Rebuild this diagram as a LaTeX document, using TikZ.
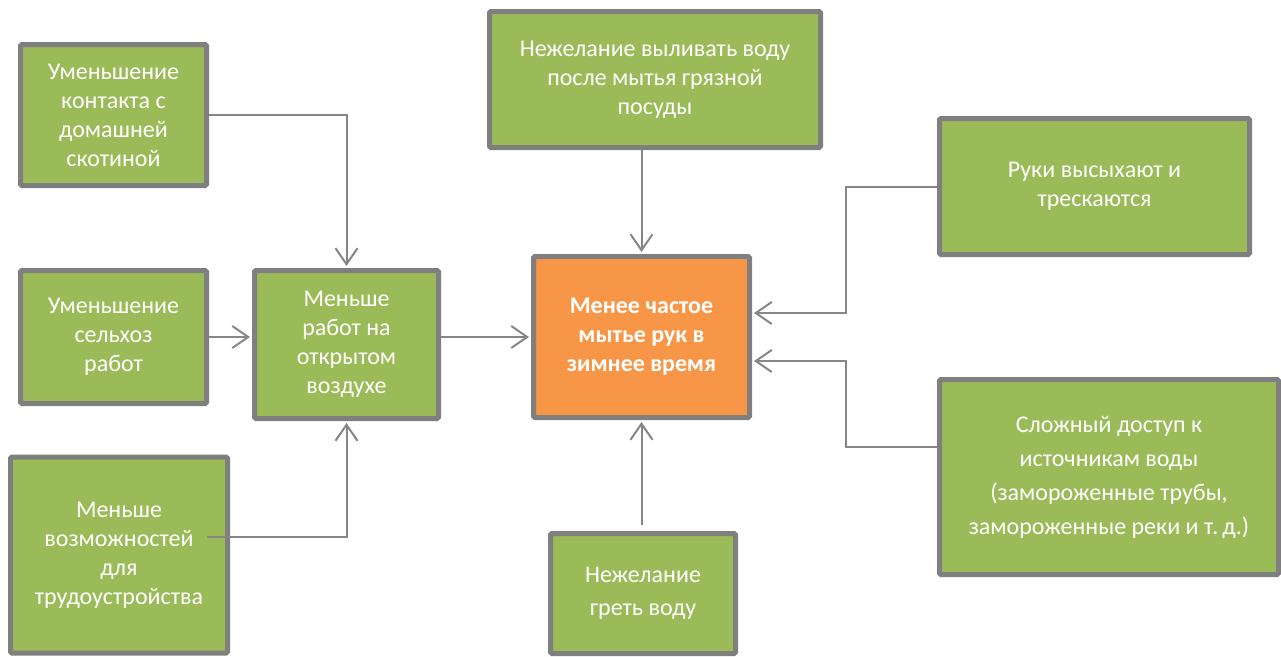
\documentclass[tikz,border=0pt]{standalone}
\usepackage{fontspec}
\setmainfont{Carlito}
\usetikzlibrary{arrows.meta}
\definecolor{boxgreen}{HTML}{9BBB59}
\definecolor{boxorange}{HTML}{F79646}
\definecolor{boxborder}{HTML}{7F7F7F}
\definecolor{linegray}{HTML}{868686}
\begin{document}
\begin{tikzpicture}[x=1pt,y=-1pt,
  box/.style={draw=boxborder, line width=5pt, fill=boxgreen, rounded corners=1.5pt,
    text=white, align=center, inner sep=0pt, font=\fontsize{24}{29}\selectfont},
  keybox/.style={box, fill=boxorange},
  conn/.style={draw=linegray, line width=2pt, -{Straight Barb[length=16pt,width=22pt]}, shorten >=2pt},
  plain/.style={draw=linegray, line width=2pt}]
\useasboundingbox (0,0) rectangle (1281,656);
\clip (0,0) rectangle (1281,656);

\node[box, minimum width=186pt, minimum height=141pt] (A) at (113.5,115)
  {Уменьшение\\контакта с\\домашней\\скотиной};
\node[box, minimum width=186pt, minimum height=133pt] (B) at (113.5,337)
  {Уменьшение\\сельхоз\\работ};
\node[box, minimum width=184pt, minimum height=148pt] (C) at (346.5,344.5)
  {Меньше\\работ на\\открытом\\воздухе};
\node[box, minimum width=217pt, minimum height=196pt] (D) at (119,555)
  {Меньше\\возможностей\\для\\трудоустройства};
\node[box, minimum width=331pt, minimum height=136pt] (E) at (655,79.5)
  {Нежелание выливать воду\\после мытья грязной\\посуды};
\node[keybox, minimum width=216pt, minimum height=161pt] (F) at (641.5,337)
  {\bfseries Менее частое\\\bfseries мытье рук в\\\bfseries зимнее время};
\node[box, minimum width=310pt, minimum height=136pt] (G) at (1094.5,186.5)
  {Руки высыхают и\\трескаются};
\node[box, minimum width=339pt, minimum height=195pt, font=\fontsize{24}{34}\selectfont] (H) at (1109,477)
  {Сложный доступ к\\источникам воды\\(замороженные трубы,\\замороженные реки и т.\,д.)};
\node[box, minimum width=185pt, minimum height=120pt, font=\fontsize{24}{33}\selectfont] (I) at (643,593.5)
  {Нежелание\\греть воду};

\coordinate (d1) at (207,537);
\coordinate (i1) at (641.5,525);
\coordinate (g1) at (846,313);
\coordinate (h1) at (846,361);
\coordinate (hy) at (0,447);

\draw[conn] (A.east) -- (A.east -| C.north) -- (C.north);
\draw[conn] (B.east) -- (B.east -| C.west);
\draw[conn] (C.east |- F.west) -- (F.west);
\draw[conn] (d1) -- (d1 -| C.south) -- (C.south);
\draw[conn] (E.south -| F.north) -- (F.north);
\draw[conn] (i1) -- (F.south);
\draw[conn] (G.west) -- (G.west -| g1) -- (g1) -- (g1 -| F.east);
\draw[conn] (H.west |- hy) -- (h1 |- hy) -- (h1) -- (h1 -| F.east);
\end{tikzpicture}
\end{document}
